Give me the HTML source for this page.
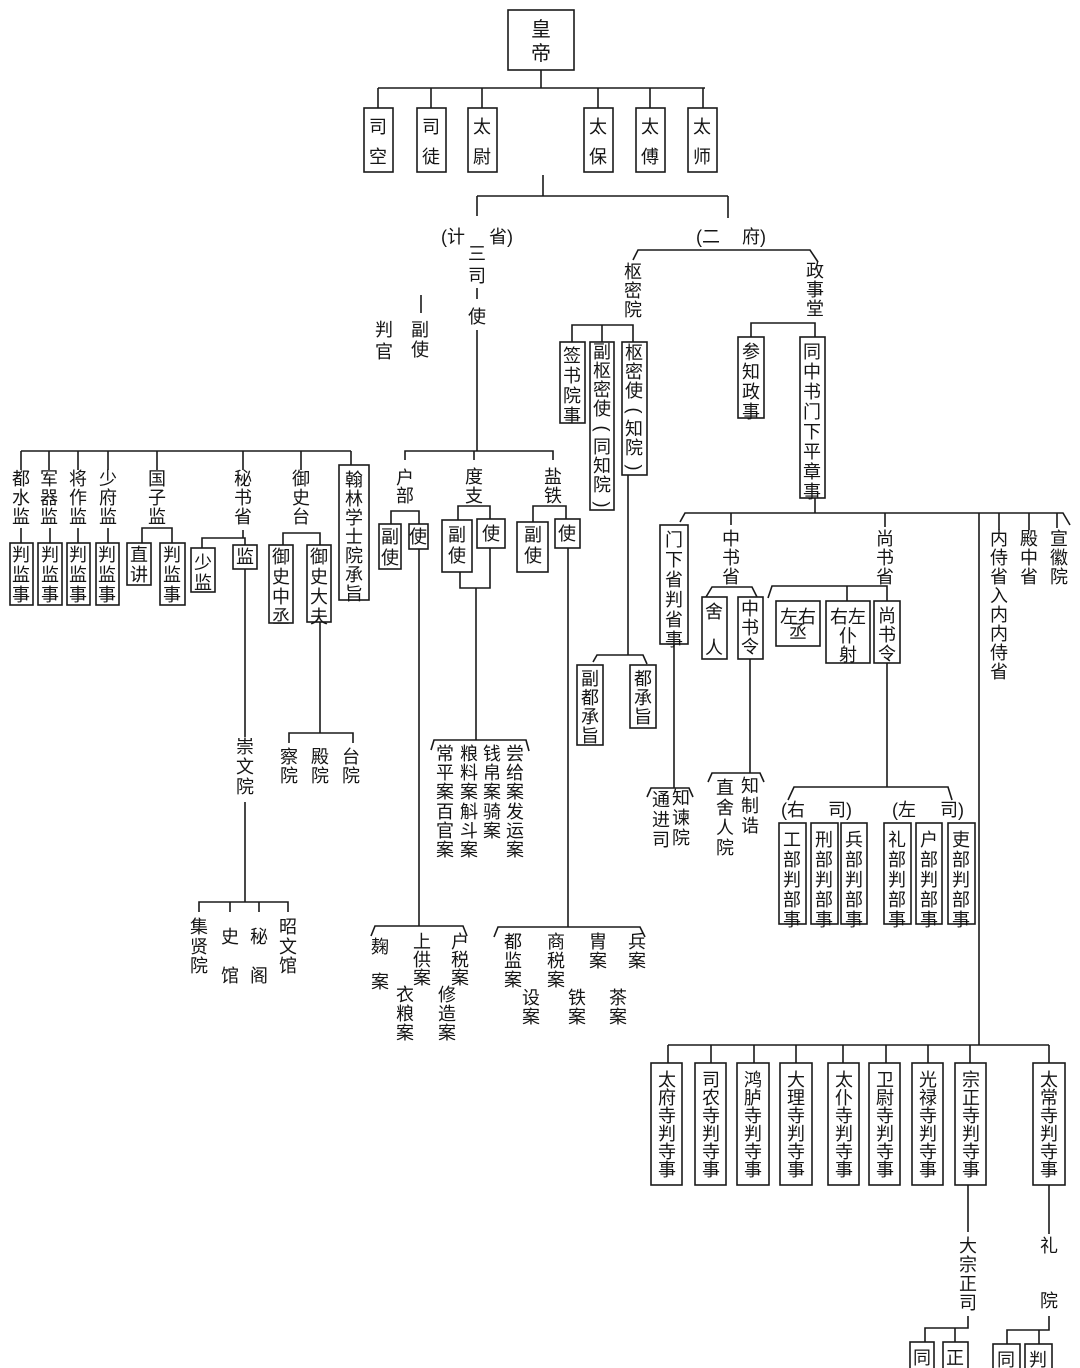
<!DOCTYPE html>
<html><head><meta charset="utf-8"><style>
html,body{margin:0;padding:0;background:#fff}
#w{position:relative;width:1080px;height:1368px;overflow:hidden;background:#fff}
svg{position:absolute;left:0;top:0}
.c{position:absolute;width:22px;text-align:center;font-size:18px;font-family:"Liberation Sans","Noto Sans CJK SC",sans-serif;color:#151515;word-break:break-all}
.c span{display:block;height:19px}
.c span.p{transform:rotate(90deg)}
.h{position:absolute;font-size:18px;font-family:"Liberation Sans","Noto Sans CJK SC",sans-serif;color:#151515;white-space:nowrap;line-height:20px}
</style></head><body><div id="w">
<svg width="1080" height="1368" fill="none" stroke="#1a1a1a" stroke-width="1.6">
<rect x="508" y="10" width="66" height="60"/>
<path d="M541 70V88M378 88H705M378 88V108M431 88V108M482 88V108M598 88V108M650 88V108M703 88V108"/>
<rect x="364" y="108" width="29" height="64"/><rect x="417" y="108" width="29" height="64"/><rect x="468" y="108" width="29" height="64"/>
<rect x="584" y="108" width="29" height="64"/><rect x="636" y="108" width="29" height="64"/><rect x="688" y="108" width="29" height="64"/>
<path d="M543 175V196M477 196H728M477 196V216M728 196V218"/>
<path d="M477 288V299M477 330V451M421 295V313"/>
<path d="M633 260L638 250H810L818 262"/>
<path d="M572 342V325H633V342M602 325V342"/>
<rect x="560" y="342" width="25" height="81"/><rect x="590" y="342" width="24" height="168"/><rect x="622" y="342" width="25" height="133"/>
<path d="M628 475V655M593 662L597 655H643L647 664"/>
<rect x="577" y="665" width="26" height="80"/><rect x="630" y="665" width="26" height="63"/>
<path d="M751 337V323H815V337"/>
<rect x="738" y="337" width="26" height="81"/><rect x="800" y="337" width="25" height="161"/>
<path d="M815 498V513M680 522L685 513H1063L1070 525M731 513V525M885 513V527M979 513V1045M999 513V530M1029 513V530M1057 513V528"/>
<rect x="660" y="525" width="28" height="119"/>
<path d="M674 644V788M647 797L651 788H689L693 797"/>
<path d="M706 597L712 587H752L757 597"/>
<rect x="702" y="597" width="25" height="62"/><rect x="738" y="597" width="25" height="62"/>
<path d="M750 659V773M708 782L712 773H760L764 782"/>
<path d="M768 598L772 586H887V601M847 586V601"/>
<rect x="776" y="601" width="44" height="45"/><rect x="826" y="601" width="44" height="62"/><rect x="874" y="601" width="26" height="62"/>
<path d="M887 663V787M788 800L794 787H948L952 800"/>
<rect x="779" y="823" width="27" height="101"/><rect x="811" y="823" width="27" height="101"/><rect x="841" y="823" width="26" height="101"/>
<rect x="884" y="823" width="27" height="101"/><rect x="916" y="823" width="26" height="101"/><rect x="948" y="823" width="27" height="101"/>
<path d="M21 451H351M21 451V470M49 451V470M78 451V470M108 451V470M157 451V470M243 451V470M301 451V470M351 451V465"/>
<path d="M21 528V543M50 528V543M78 528V543M108 528V543M142 543V528H172V543"/>
<rect x="10" y="543" width="23" height="62"/><rect x="38" y="543" width="24" height="62"/><rect x="67" y="543" width="23" height="62"/><rect x="96" y="543" width="23" height="62"/>
<rect x="127" y="543" width="24" height="42"/><rect x="160" y="543" width="25" height="62"/>
<path d="M243 530V538M202 548V538H245V545"/>
<rect x="191" y="548" width="24" height="44"/><rect x="233" y="545" width="24" height="24"/>
<path d="M245 569V737M245 802V902M199 912V902H288V912M230 902V912M259 902V912"/>
<path d="M283 545V533H320V545"/>
<rect x="269" y="545" width="24" height="78"/><rect x="307" y="545" width="24" height="77"/>
<path d="M320 622V733M289 743V733H353V743"/>
<rect x="339" y="465" width="30" height="135"/>
<path d="M405 460V451H553V460M474 451V460"/>
<path d="M391 524V511H419V524"/>
<rect x="379" y="524" width="22" height="45"/><rect x="409" y="524" width="19" height="25"/>
<path d="M419 549V926M371 936L375 926H463L467 936"/>
<path d="M458 520V506H490V519"/>
<rect x="442" y="520" width="30" height="52"/><rect x="477" y="519" width="28" height="29"/>
<path d="M460 572V588H490V548M476 588V740M431 750L434 740H526L529 751"/>
<path d="M533 522V506H566V519"/>
<rect x="517" y="522" width="31" height="50"/><rect x="555" y="519" width="25" height="29"/>
<path d="M568 548V927M494 937L498 927H640L645 937"/>
<path d="M668 1045H1049M668 1045V1063M711 1045V1063M754 1045V1063M796 1045V1063M843 1045V1063M886 1045V1063M928 1045V1063M970 1045V1063M1049 1045V1063"/>
<rect x="651" y="1063" width="31" height="122"/><rect x="695" y="1063" width="31" height="122"/><rect x="737" y="1063" width="32" height="122"/>
<rect x="780" y="1063" width="32" height="122"/><rect x="828" y="1063" width="31" height="122"/><rect x="869" y="1063" width="31" height="122"/>
<rect x="912" y="1063" width="31" height="122"/><rect x="955" y="1063" width="31" height="122"/><rect x="1033" y="1063" width="32" height="122"/>
<path d="M968 1185V1232M968 1316V1328H925V1342M955 1328V1342"/>
<path d="M1049 1185V1234M1049 1316V1330H1007V1344M1039 1330V1344"/>
<rect x="910" y="1342" width="24" height="40"/><rect x="943" y="1342" width="25" height="40"/>
<rect x="993" y="1344" width="27" height="40"/><rect x="1025" y="1344" width="27" height="40"/>
</svg>

<div class="c" style="left:530px;top:18px;line-height:24px;font-size:20px">皇帝</div>
<div class="c" style="left:367px;top:112px;line-height:30px">司空</div>
<div class="c" style="left:420px;top:112px;line-height:30px">司徒</div>
<div class="c" style="left:471px;top:112px;line-height:30px">太尉</div>
<div class="c" style="left:587px;top:112px;line-height:30px">太保</div>
<div class="c" style="left:639px;top:112px;line-height:30px">太傅</div>
<div class="c" style="left:691px;top:112px;line-height:30px">太师</div>

<div class="h" style="left:441px;top:227px">(计</div>
<div class="h" style="left:489px;top:227px">省)</div>
<div class="h" style="left:696px;top:227px">(二</div>
<div class="h" style="left:742px;top:227px">府)</div>
<div class="c" style="left:466px;top:243px;line-height:22px">三司</div>
<div class="c" style="left:466px;top:306px;line-height:22px">使</div>
<div class="c" style="left:409px;top:320px;line-height:20px">副使</div>
<div class="c" style="left:373px;top:319px;line-height:22px">判官</div>
<div class="c" style="left:622px;top:263px;line-height:19px">枢密院</div>
<div class="c" style="left:804px;top:262px;line-height:19px">政事堂</div>
<div class="c" style="left:561px;top:346px;line-height:20px">签书院事</div>
<div class="c" style="left:591px;top:343px;line-height:19px"><span>副</span><span>枢</span><span>密</span><span>使</span><span class="p">(</span><span>同</span><span>知</span><span>院</span><span class="p">)</span></div>
<div class="c" style="left:623px;top:344px;line-height:19px"><span>枢</span><span>密</span><span>使</span><span class="p">(</span><span>知</span><span>院</span><span class="p">)</span></div>
<div class="c" style="left:579px;top:670px;line-height:19px">副都承旨</div>
<div class="c" style="left:632px;top:670px;line-height:19px">都承旨</div>
<div class="c" style="left:740px;top:342px;line-height:20px">参知政事</div>
<div class="c" style="left:801px;top:342px;line-height:20px">同中书门下平章事</div>
<div class="c" style="left:663px;top:530px;line-height:20px">门下省判省事</div>
<div class="c" style="left:650px;top:790px;line-height:20px">通进司</div>
<div class="c" style="left:670px;top:788px;line-height:20px">知谏院</div>
<div class="c" style="left:720px;top:530px;line-height:19px">中书省</div>
<div class="c" style="left:703px;top:594px;line-height:36px">舍人</div>
<div class="c" style="left:739px;top:600px;line-height:19px">中书令</div>
<div class="c" style="left:714px;top:778px;line-height:20px">直舍人院</div>
<div class="c" style="left:739px;top:776px;line-height:20px">知制诰</div>
<div class="c" style="left:874px;top:530px;line-height:19px">尚书省</div>
<div class="h" style="left:780px;top:607px">左右</div>
<div class="c" style="left:787px;top:623px;line-height:19px">丞</div>
<div class="h" style="left:830px;top:607px">右左</div>
<div class="c" style="left:837px;top:627px;line-height:19px">仆射</div>
<div class="c" style="left:876px;top:607px;line-height:19px">尚书令</div>
<div class="h" style="left:781px;top:800px">(右</div>
<div class="h" style="left:828px;top:800px">司)</div>
<div class="h" style="left:892px;top:800px">(左</div>
<div class="h" style="left:940px;top:800px">司)</div>
<div class="c" style="left:781px;top:830px;line-height:20px">工部判部事</div>
<div class="c" style="left:813px;top:830px;line-height:20px">刑部判部事</div>
<div class="c" style="left:843px;top:830px;line-height:20px">兵部判部事</div>
<div class="c" style="left:886px;top:830px;line-height:20px">礼部判部事</div>
<div class="c" style="left:918px;top:830px;line-height:20px">户部判部事</div>
<div class="c" style="left:950px;top:830px;line-height:20px">吏部判部事</div>
<div class="c" style="left:988px;top:530px;line-height:19px">内侍省入内内侍省</div>
<div class="c" style="left:1018px;top:530px;line-height:19px">殿中省</div>
<div class="c" style="left:1048px;top:530px;line-height:19px">宣徽院</div>

<div class="c" style="left:10px;top:470px;line-height:19px">都水监</div>
<div class="c" style="left:38px;top:470px;line-height:19px">军器监</div>
<div class="c" style="left:67px;top:470px;line-height:19px">将作监</div>
<div class="c" style="left:97px;top:470px;line-height:19px">少府监</div>
<div class="c" style="left:146px;top:470px;line-height:19px">国子监</div>
<div class="c" style="left:10px;top:545px;line-height:20px">判监事</div>
<div class="c" style="left:39px;top:545px;line-height:20px">判监事</div>
<div class="c" style="left:67px;top:545px;line-height:20px">判监事</div>
<div class="c" style="left:96px;top:545px;line-height:20px">判监事</div>
<div class="c" style="left:128px;top:545px;line-height:20px">直讲</div>
<div class="c" style="left:161px;top:545px;line-height:20px">判监事</div>
<div class="c" style="left:232px;top:470px;line-height:19px">秘书省</div>
<div class="c" style="left:192px;top:553px;line-height:20px">少监</div>
<div class="c" style="left:234px;top:547px;line-height:20px">监</div>
<div class="c" style="left:290px;top:470px;line-height:19px">御史台</div>
<div class="c" style="left:270px;top:547px;line-height:20px">御史中丞</div>
<div class="c" style="left:308px;top:547px;line-height:20px">御史大夫</div>
<div class="c" style="left:343px;top:471px;line-height:19px">翰林学士院承旨</div>
<div class="c" style="left:234px;top:737px;line-height:20px">崇文院</div>
<div class="c" style="left:188px;top:918px;line-height:19.5px">集贤院</div>
<div class="c" style="left:219px;top:918px;line-height:39px">史馆</div>
<div class="c" style="left:248px;top:918px;line-height:39px">秘阁</div>
<div class="c" style="left:277px;top:918px;line-height:19.5px">昭文馆</div>
<div class="c" style="left:278px;top:748px;line-height:19px">察院</div>
<div class="c" style="left:309px;top:748px;line-height:19px">殿院</div>
<div class="c" style="left:340px;top:748px;line-height:19px">台院</div>

<div class="c" style="left:394px;top:469px;line-height:18px">户部</div>
<div class="c" style="left:379px;top:527px;line-height:21px">副使</div>
<div class="c" style="left:407px;top:527px;line-height:21px">使</div>
<div class="c" style="left:463px;top:468px;line-height:19px">度支</div>
<div class="c" style="left:446px;top:525px;line-height:21px">副使</div>
<div class="c" style="left:480px;top:524px;line-height:21px">使</div>
<div class="c" style="left:542px;top:468px;line-height:19px">盐铁</div>
<div class="c" style="left:522px;top:525px;line-height:21px">副使</div>
<div class="c" style="left:556px;top:524px;line-height:21px">使</div>
<div class="c" style="left:434px;top:745px;line-height:19.2px">常平案百官案</div>
<div class="c" style="left:458px;top:745px;line-height:19.2px">粮料案斛斗案</div>
<div class="c" style="left:481px;top:745px;line-height:19.2px">钱帛案骑案</div>
<div class="c" style="left:504px;top:745px;line-height:19.2px">尝给案发运案</div>
<div class="c" style="left:369px;top:930px;line-height:35px">麹案</div>
<div class="c" style="left:411px;top:933px;line-height:18px">上供案</div>
<div class="c" style="left:394px;top:986px;line-height:19px">衣粮案</div>
<div class="c" style="left:449px;top:933px;line-height:18px">户税案</div>
<div class="c" style="left:436px;top:986px;line-height:19px">修造案</div>
<div class="c" style="left:502px;top:933px;line-height:19px">都监案</div>
<div class="c" style="left:520px;top:989px;line-height:19px">设案</div>
<div class="c" style="left:545px;top:933px;line-height:19px">商税案</div>
<div class="c" style="left:566px;top:989px;line-height:19px">铁案</div>
<div class="c" style="left:587px;top:933px;line-height:19px">胄案</div>
<div class="c" style="left:607px;top:989px;line-height:19px">茶案</div>
<div class="c" style="left:626px;top:933px;line-height:19px">兵案</div>

<div class="c" style="left:656px;top:1071px;line-height:18px">太府寺判寺事</div>
<div class="c" style="left:700px;top:1071px;line-height:18px">司农寺判寺事</div>
<div class="c" style="left:742px;top:1071px;line-height:18px">鸿胪寺判寺事</div>
<div class="c" style="left:785px;top:1071px;line-height:18px">大理寺判寺事</div>
<div class="c" style="left:833px;top:1071px;line-height:18px">太仆寺判寺事</div>
<div class="c" style="left:874px;top:1071px;line-height:18px">卫尉寺判寺事</div>
<div class="c" style="left:917px;top:1071px;line-height:18px">光禄寺判寺事</div>
<div class="c" style="left:960px;top:1071px;line-height:18px">宗正寺判寺事</div>
<div class="c" style="left:1038px;top:1071px;line-height:18px">太常寺判寺事</div>
<div class="c" style="left:957px;top:1237px;line-height:19px">大宗正司</div>
<div class="c" style="left:1038px;top:1237px;line-height:19px">礼</div>
<div class="c" style="left:1038px;top:1292px;line-height:19px">院</div>
<div class="c" style="left:911px;top:1348px;line-height:20px">同</div>
<div class="c" style="left:944px;top:1348px;line-height:20px">正</div>
<div class="c" style="left:995px;top:1350px;line-height:20px">同</div>
<div class="c" style="left:1027px;top:1350px;line-height:20px">判</div>
</div></body></html>
